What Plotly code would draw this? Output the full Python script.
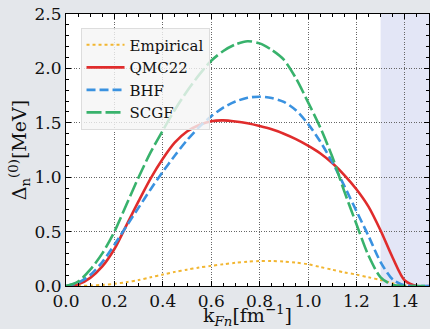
import plotly.graph_objects as go

k = [0.0, 0.05, 0.1, 0.15, 0.2, 0.25, 0.3, 0.35, 0.4, 0.45, 0.5, 0.55, 0.6, 0.65, 0.7, 0.75,
     0.8, 0.85, 0.9, 0.95, 1.0, 1.05, 1.1, 1.15, 1.2, 1.25, 1.3, 1.35, 1.4, 1.45, 1.5]

empirical = [0.0, 0.001, 0.004, 0.01, 0.02, 0.035, 0.055, 0.08, 0.105, 0.13, 0.15, 0.17, 0.185,
             0.2, 0.213, 0.223, 0.23, 0.23, 0.225, 0.215, 0.2, 0.175, 0.15, 0.125, 0.105, 0.08,
             0.055, 0.025, 0.005, 0.0, 0.0]
qmc22 = [0.0, 0.015, 0.075, 0.18, 0.34, 0.56, 0.78, 0.99, 1.17, 1.32, 1.42, 1.48, 1.515, 1.522,
         1.512, 1.495, 1.47, 1.44, 1.40, 1.35, 1.29, 1.22, 1.13, 1.02, 0.89, 0.73, 0.51, 0.26,
         0.05, 0.0, 0.0]
bhf = [0.0, 0.03, 0.1, 0.22, 0.38, 0.55, 0.72, 0.89, 1.05, 1.2, 1.34, 1.46, 1.56, 1.64, 1.695,
       1.73, 1.74, 1.727, 1.692, 1.615, 1.49, 1.33, 1.14, 0.92, 0.69, 0.46, 0.22, 0.06, 0.005, 0.0, 0.0]
scgf = [0.0, 0.04, 0.15, 0.3, 0.5, 0.75, 1.0, 1.23, 1.43, 1.62, 1.79, 1.94, 2.07, 2.16, 2.22,
        2.25, 2.23, 2.17, 2.08, 1.91, 1.69, 1.46, 1.19, 0.87, 0.57, 0.28, 0.08, 0.01, 0.0, 0.0, 0.0]

x_ticks = [0.0, 0.2, 0.4, 0.6, 0.8, 1.0, 1.2, 1.4]
y_ticks = [0.0, 0.5, 1.0, 1.5, 2.0, 2.5]
band = [1.3, 1.5]

FONT = "DejaVu Serif, Liberation Serif, serif"

fig = go.Figure()
fig.add_trace(go.Scatter(x=k, y=empirical, name="Empirical", mode="lines",
                         line=dict(color="#f2b631", width=2, dash="dot", shape="spline", smoothing=0.8)))
fig.add_trace(go.Scatter(x=k, y=qmc22, name="QMC22", mode="lines",
                         line=dict(color="#e02c2c", width=2.6, shape="spline", smoothing=0.8)))
fig.add_trace(go.Scatter(x=k, y=bhf, name="BHF", mode="lines",
                         line=dict(color="#3a92e0", width=2.6, dash="9px,4px", shape="spline", smoothing=0.8)))
fig.add_trace(go.Scatter(x=k, y=scgf, name="SCGF", mode="lines",
                         line=dict(color="#38b26c", width=2.6, dash="15px,4px", shape="spline", smoothing=0.8)))

fig.add_shape(type="rect", xref="x", yref="paper", x0=band[0], x1=band[1], y0=0, y1=1,
              fillcolor="#e3e6f6", line=dict(width=0), layer="below")

axis_common = dict(showline=True, linecolor="black", linewidth=1, mirror="ticks",
                   ticks="inside", ticklen=5, tickwidth=1, tickcolor="black",
                   showgrid=True, gridcolor="#666666", griddash="1px,1.5px", gridwidth=1,
                   zeroline=False, tickfont=dict(family=FONT, size=17, color="#111"))

fig.update_xaxes(range=[0, 1.5], tickvals=x_ticks, tickformat=".1f",
                 minor=dict(dtick=0.05, ticks="inside", ticklen=3, tickcolor="black", showgrid=False),
                 title=dict(text="k<sub><i>Fn</i></sub>[fm<sup>−1</sup>]",
                            font=dict(family=FONT, size=19, color="#111"), standoff=2),
                 **axis_common)
fig.update_yaxes(range=[0, 2.5], tickvals=y_ticks, tickformat=".1f",
                 minor=dict(dtick=0.1, ticks="inside", ticklen=3, tickcolor="black", showgrid=False),
                 title=dict(text="Δ<sub>n</sub><sup>(0)</sup>[MeV]",
                            font=dict(family=FONT, size=19, color="#111"), standoff=2),
                 **axis_common)

fig.update_layout(
    width=430, height=329,
    margin=dict(l=66, r=1, t=14, b=43),
    paper_bgcolor="#e4e7eb",
    plot_bgcolor="white",
    font=dict(family=FONT, color="#111"),
    legend=dict(x=0.04, y=0.95, xanchor="left", yanchor="top",
                bgcolor="rgba(245,245,245,0.8)", bordercolor="#dddddd", borderwidth=1,
                font=dict(family=FONT, size=15, color="#111"),
                tracegroupgap=0, itemwidth=38),
    showlegend=True,
)

fig.write_html("out.html")
